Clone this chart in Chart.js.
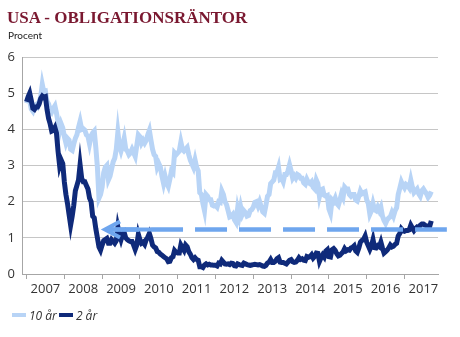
<!DOCTYPE html>
<html><head><meta charset="utf-8">
<script src="https://cdn.jsdelivr.net/npm/chart.js@4/dist/chart.umd.min.js"></script>
<style>
html,body{margin:0;padding:0;background:#fff;}
#wrap{position:relative;width:460px;height:337px;overflow:hidden;}
canvas{position:absolute;left:0;top:0;}
#title{position:absolute;left:7px;top:9px;font:bold 17px/17px "Liberation Serif",serif;color:#7a1830;white-space:nowrap;}
#sub{position:absolute;left:8px;top:30px;font:10px/10px Lato,sans-serif;color:#222;white-space:nowrap;}
#legend{position:absolute;left:12px;top:307px;height:16px;display:flex;align-items:center;font:italic 12px "Open Sans",sans-serif;color:#333;white-space:nowrap;}
.sw{display:inline-block;width:14px;height:4px;margin-right:3px;}
.item{display:flex;align-items:center;margin-right:2px;}
</style></head><body>
<div id="wrap">
<canvas id="c" width="460" height="337"></canvas>
<div id="title">USA - OBLIGATIONSRÄNTOR</div>
<div id="sub">Procent</div>
<div id="legend"></div>
</div>
<script>
// Series labels
const seriesNames = ['10 år', '2 år'];
// Half-monthly observations, Jan 2007 – Sep 2017
const tenYear = [
4.72,4.86,4.80,4.56,4.50,4.64,4.68,4.63,4.75,4.90,5.24,5.03,5.05,4.78,4.70,4.55,4.48,4.58,4.65,4.45,4.20,3.95,4.15,4.04,
3.80,3.62,3.75,3.70,3.45,3.42,3.60,3.75,3.85,4.05,4.22,4.00,4.02,3.98,3.85,3.81,3.60,3.82,3.90,3.95,3.50,2.95,2.10,2.20,
2.40,2.80,2.95,3.00,2.60,2.70,2.90,3.10,3.20,3.45,3.92,3.55,3.40,3.55,3.75,3.45,3.40,3.30,3.35,3.45,3.35,3.25,3.55,3.85,
3.80,3.62,3.70,3.62,3.70,3.85,3.97,3.70,3.45,3.30,3.25,2.95,3.05,2.95,2.70,2.50,2.70,2.52,2.42,2.62,2.85,2.80,3.35,3.30,
3.35,3.40,3.65,3.45,3.40,3.45,3.50,3.30,3.15,3.05,2.95,3.15,2.95,2.85,2.25,2.20,1.95,1.75,2.20,2.15,2.05,2.05,1.90,1.88,
1.90,1.85,2.00,1.98,2.30,2.20,2.00,1.92,1.75,1.58,1.60,1.65,1.50,1.43,1.80,1.60,1.85,1.65,1.75,1.70,1.60,1.62,1.75,1.78,
1.85,1.98,2.00,1.88,2.00,1.86,1.72,1.68,1.90,2.15,2.20,2.50,2.55,2.60,2.80,2.80,2.95,2.62,2.65,2.55,2.75,2.75,2.85,3.02,
2.85,2.65,2.72,2.65,2.75,2.72,2.65,2.65,2.52,2.48,2.62,2.53,2.50,2.55,2.40,2.35,2.60,2.50,2.15,2.33,2.35,2.18,2.15,2.17,
1.80,1.68,2.05,2.00,2.10,1.95,1.90,2.05,2.22,2.12,2.40,2.35,2.35,2.20,2.15,2.20,2.20,2.05,2.02,2.15,2.30,2.22,2.25,2.27,
2.05,1.95,1.65,1.75,1.95,1.78,1.75,1.85,1.75,1.85,1.60,1.48,1.40,1.50,1.55,1.58,1.70,1.60,1.75,1.83,2.20,2.37,2.55,2.45,
2.38,2.48,2.45,2.38,2.60,2.40,2.25,2.30,2.35,2.22,2.15,2.30,2.35,2.28,2.22,2.12,2.18,2.28
];
const twoYear = [
4.76,4.90,5.00,4.80,4.58,4.55,4.62,4.62,4.70,4.85,4.92,4.88,4.90,4.55,4.30,4.15,3.95,3.97,4.05,3.90,3.40,3.00,3.15,3.05,
2.55,2.20,1.95,1.65,1.35,1.60,1.90,2.30,2.45,2.60,3.02,2.65,2.55,2.55,2.45,2.35,2.10,2.00,1.60,1.55,1.25,1.00,0.75,0.66,
0.80,0.92,0.95,0.98,0.85,0.85,0.95,0.90,0.85,0.92,1.30,1.10,0.95,1.10,1.15,1.00,0.95,0.92,0.90,0.90,0.80,0.68,0.80,1.10,
0.95,0.85,0.88,0.82,0.95,1.02,1.12,0.98,0.80,0.75,0.72,0.62,0.60,0.55,0.52,0.48,0.45,0.42,0.34,0.35,0.45,0.48,0.65,0.60,
0.58,0.58,0.80,0.72,0.65,0.80,0.75,0.62,0.55,0.45,0.40,0.45,0.40,0.38,0.20,0.20,0.18,0.25,0.28,0.25,0.27,0.25,0.25,0.24,
0.24,0.22,0.30,0.28,0.38,0.33,0.28,0.27,0.28,0.26,0.30,0.29,0.23,0.22,0.28,0.26,0.25,0.24,0.30,0.28,0.26,0.25,0.24,0.25,
0.26,0.27,0.26,0.25,0.26,0.24,0.22,0.21,0.24,0.30,0.33,0.40,0.32,0.32,0.35,0.42,0.45,0.33,0.32,0.32,0.30,0.28,0.33,0.38,
0.40,0.34,0.32,0.33,0.38,0.45,0.40,0.42,0.38,0.37,0.48,0.46,0.48,0.53,0.44,0.49,0.58,0.57,0.35,0.45,0.53,0.47,0.63,0.67,
0.48,0.47,0.67,0.70,0.65,0.56,0.50,0.52,0.57,0.61,0.70,0.64,0.67,0.66,0.72,0.74,0.78,0.64,0.60,0.72,0.88,0.93,0.96,1.05,
0.88,0.78,0.68,0.78,0.95,0.73,0.72,0.78,0.75,0.88,0.72,0.58,0.62,0.66,0.72,0.80,0.75,0.77,0.82,0.85,1.05,1.12,1.25,1.20,
1.18,1.20,1.20,1.22,1.35,1.27,1.20,1.26,1.30,1.28,1.35,1.38,1.38,1.35,1.33,1.33,1.32,1.47
];
// Time axis (fractional years, half-month steps)
const dates = tenYear.map((_, i) => 2007 + i / 24);
// Year tick labels
const years = [2007,2008,2009,2010,2011,2012,2013,2014,2015,2016,2017];
// Reference level with arrow (x range in years, level in percent)
const refLine = [{x: 2009.05, y: 1.23}, {x: 2018.12, y: 1.23}];

const colors = {ten: '#b8d4f6', two: '#0f2a7a', ref: '#6fa6ee'};

const tickVals = [];
years.forEach(y => { tickVals.push(y); tickVals.push(y + 0.5); });

const arrowPlugin = {
  id: 'arrowHead',
  afterDatasetsDraw(chart) {
    const meta = chart.getDatasetMeta(0);
    const p = meta.data[0];
    if (!p) return;
    const ctx = chart.ctx;
    ctx.save();
    ctx.strokeStyle = colors.ref;
    ctx.lineWidth = 4;
    ctx.lineJoin = 'miter';
    ctx.beginPath();
    ctx.moveTo(p.x + 16, p.y - 8);
    ctx.lineTo(p.x + 1, p.y);
    ctx.lineTo(p.x + 16, p.y + 8);
    ctx.stroke();
    ctx.beginPath();
    ctx.moveTo(p.x + 2, p.y);
    ctx.lineTo(p.x + 47, p.y);
    ctx.stroke();
    ctx.restore();
  }
};

const tickFont = {family: '"Open Sans", sans-serif', size: 13};

new Chart(document.getElementById('c'), {
  type: 'line',
  data: {
    datasets: [
      {label: 'ref', data: refLine, borderColor: colors.ref, borderWidth: 4.5,
       borderDash: [32, 12], borderDashOffset: 41, pointRadius: 0, clip: false, borderCapStyle: 'butt'},
      {label: seriesNames[1], data: dates.map((d, i) => ({x: d, y: twoYear[i]})),
       borderColor: colors.two, borderWidth: 5, pointRadius: 0, tension: 0},
      {label: seriesNames[0], data: dates.map((d, i) => ({x: d, y: tenYear[i]})),
       borderColor: colors.ten, borderWidth: 5, pointRadius: 0, tension: 0}
    ]
  },
  options: {
    responsive: false,
    animation: false,
    devicePixelRatio: 1,
    layout: {padding: {top: 57, right: 22, bottom: 33, left: 0}},
    plugins: {legend: {display: false}, title: {display: false}, tooltip: {enabled: false}},
    scales: {
      x: {
        type: 'linear', min: 2006.88, max: 2017.886,
        afterBuildTicks: s => { s.ticks = tickVals.map(v => ({value: v})); },
        afterFit: s => { s.height = 30; },
        grid: {drawOnChartArea: false, drawTicks: true, tickLength: 5, lineWidth: 1,
               color: ctx => (ctx.tick && Number.isInteger(ctx.tick.value)) ? '#a6a6a6' : 'rgba(0,0,0,0)'},
        border: {color: '#a6a6a6', width: 1},
        ticks: {autoSkip: false, maxRotation: 0, minRotation: 0, padding: 2, color: '#333', font: tickFont,
                callback: v => Number.isInteger(v) ? '' : String(Math.floor(v))}
      },
      y: {
        min: 0, max: 6,
        afterFit: s => { s.width = 22; },
        grid: {color: '#c6c6c6', drawTicks: false, lineWidth: 1},
        border: {color: '#a6a6a6', width: 1},
        ticks: {stepSize: 1, padding: 7, color: '#333', font: tickFont}
      }
    }
  },
  plugins: [arrowPlugin]
});

// HTML legend
const lg = document.getElementById('legend');
[[seriesNames[0], colors.ten], [seriesNames[1], colors.two]].forEach(([n, c]) => {
  const it = document.createElement('span'); it.className = 'item';
  const sw = document.createElement('span'); sw.className = 'sw'; sw.style.background = c;
  const tx = document.createElement('span'); tx.textContent = n;
  it.appendChild(sw); it.appendChild(tx); lg.appendChild(it);
});
</script>
</body></html>
